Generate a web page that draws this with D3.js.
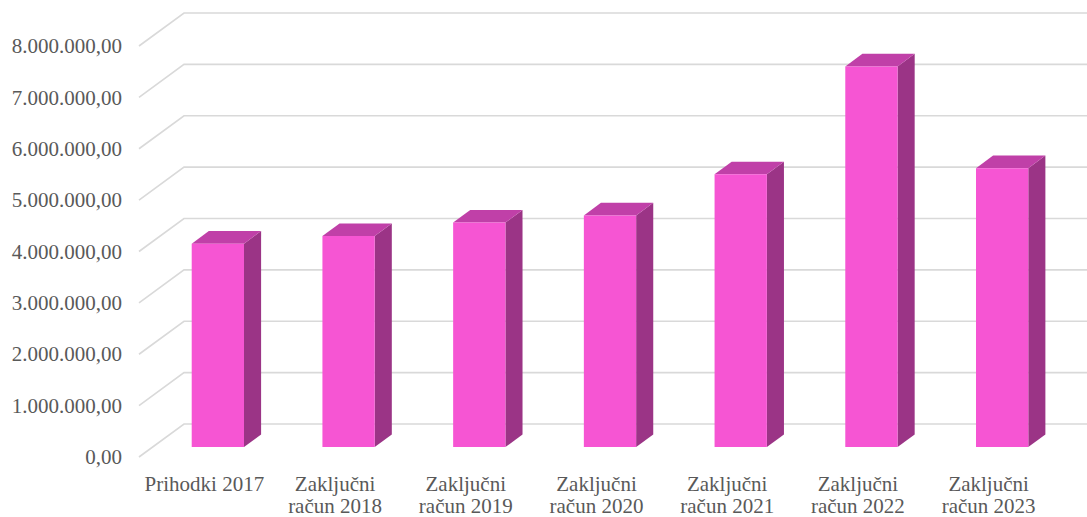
<!DOCTYPE html>
<html>
<head>
<meta charset="utf-8">
<script src="https://cdn.jsdelivr.net/npm/d3@7/dist/d3.min.js"></script>
<style>
  html, body { margin: 0; padding: 0; background: #fff; }
  svg { display: block; }
</style>
</head>
<body>
<svg id="chart" width="1087" height="517"></svg>
<script>
const categories = [
  ["Prihodki 2017"],
  ["Zaključni", "račun 2018"],
  ["Zaključni", "račun 2019"],
  ["Zaključni", "račun 2020"],
  ["Zaključni", "račun 2021"],
  ["Zaključni", "račun 2022"],
  ["Zaključni", "račun 2023"]
];
const values = [3960000, 4110000, 4370000, 4510000, 5310000, 7410000, 5430000];
const yTicks = [0, 1000000, 2000000, 3000000, 4000000, 5000000, 6000000, 7000000, 8000000];
const tickFormat = v => d3.format(",.2f")(v).replace(/,/g, "#").replace(/\./g, ",").replace(/#/g, ".");

const FONT = "'Liberation Serif', 'Times New Roman', serif";
const svg = d3.select("#chart");
const W = 1087, H = 517;
const frontLeft = 139, frontRight = 1054, frontFloor = 457;
const depthX = 45, depthY = -33;   // oblique offset for full depth
const z0 = 0.3, z1 = 0.68;          // bar depth range

const y = d3.scaleLinear().domain([0, 8000000]).range([frontFloor, frontFloor - 411]);
const x = d3.scaleBand().domain(d3.range(categories.length)).range([frontLeft, frontRight])
  .paddingInner(0.6).paddingOuter(0.3);

const P = (px, v, z) => [px + z * depthX, y(v) + z * depthY];

// gridlines
const grid = svg.append("g");
yTicks.forEach(t => {
  const a = P(frontLeft, t, 0), b = P(frontLeft, t, 1);
  grid.append("polyline")
    .attr("points", [a, b, [W, b[1]]].map(p => p.join(",")).join(" "))
    .attr("fill", "none").attr("stroke", "#d9d9d9").attr("stroke-width", 1.6);
});

// y tick labels
svg.append("g").selectAll("text").data(yTicks).join("text")
  .attr("x", 122).attr("y", d => y(d)).attr("dy", "0.34em")
  .attr("text-anchor", "end")
  .style("font-family", FONT).style("font-size", "21px").style("fill", "#595959")
  .text(tickFormat);

// bars
const bars = svg.append("g");
values.forEach((v, i) => {
  const xl = x(i), xr = x(i) + x.bandwidth();
  const poly = pts => pts.map(p => p.join(",")).join(" ");
  bars.append("polygon").attr("fill", "#9b3486")
    .attr("points", poly([P(xr, v, z0), P(xr, v, z1), P(xr, 0, z1), P(xr, 0, z0)]));
  bars.append("polygon").attr("fill", "#c040a8")
    .attr("points", poly([P(xl, v, z0), P(xl, v, z1), P(xr, v, z1), P(xr, v, z0)]));
  bars.append("polygon").attr("fill", "#f655d3")
    .attr("points", poly([P(xl, v, z0), P(xr, v, z0), P(xr, 0, z0), P(xl, 0, z0)]));
});

// category labels
const cl = svg.append("g");
categories.forEach((lines, i) => {
  const cx = x(i) + x.bandwidth() / 2;
  const t = cl.append("text").attr("text-anchor", "middle")
    .style("font-family", FONT).style("font-size", "21px").style("fill", "#595959");
  lines.forEach((ln, j) => {
    t.append("tspan").attr("x", cx).attr("y", 491 + j * 22).text(ln);
  });
});
</script>
</body>
</html>
